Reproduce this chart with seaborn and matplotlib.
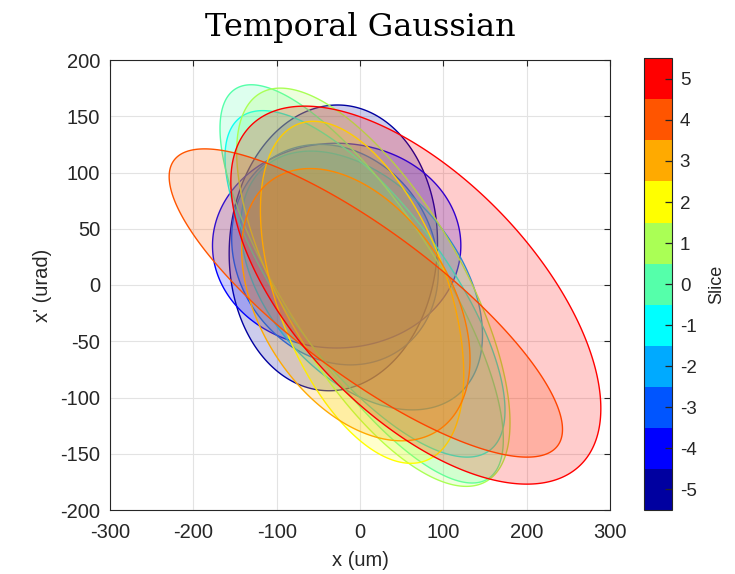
import numpy as np
import pandas as pd
import matplotlib
matplotlib.use("Agg")
import matplotlib.pyplot as plt
import seaborn as sns
from matplotlib.colors import ListedColormap, BoundaryNorm
from matplotlib.colorbar import ColorbarBase

# ---- data ----
slices = [-5, -4, -3, -2, -1, 0, 1, 2, 3, 4, 5]
center_x = [-32, -28, -30, 2, 6, 2, 16, 2.5, -5, 7, 67]          # um
center_xp = [33, 35, 27, 4, 1, 1, -2, -6.5, -17.5, -16, -9]        # urad
half_x = [125, 149, 124, 145, 168, 170, 164, 122, 137, 236, 222]   # um
half_xp = [127, 91, 98, 115, 154, 177, 177, 152, 121, 137, 168]    # urad
corr = [0.04, 0.0, -0.15, -0.42, -0.73, -0.78, -0.68, -0.48, -0.40, -0.82, -0.60]
slice_colors = ["#0000A0", "#0000FF", "#0055FF", "#00AAFF", "#00FFFF", "#55FFAA",
                "#AAFF55", "#FFFF00", "#FFAA00", "#FF5500", "#FF0000"]
x_ticks = [-300, -200, -100, 0, 100, 200, 300]
y_ticks = [-200, -150, -100, -50, 0, 50, 100, 150, 200]

df = pd.DataFrame(dict(slice=slices, cx=center_x, cy=center_xp, hx=half_x,
                       hy=half_xp, rho=corr, color=slice_colors))

sns.set_theme(style="white")
plt.rcParams['font.family'] = ['Liberation Sans', 'DejaVu Sans']
plt.rcParams['axes.unicode_minus'] = False

fig = plt.figure(figsize=(7.35, 5.74), dpi=100)
ax = fig.add_axes([110/735, 1-510/574, 500/735, 450/574])

t = np.linspace(0, 2*np.pi, 400)
for _, r in df.iterrows():
    phi = np.arccos(r.rho)
    ex = r.cx + r.hx*np.cos(t)
    ey = r.cy + r.hy*np.cos(t - phi)
    rgb = matplotlib.colors.to_rgb(r.color)
    ax.fill(ex, ey, facecolor=(*rgb, 0.2), edgecolor=rgb, linewidth=1.0, zorder=3)

ax.set_xlim(-300, 300)
ax.set_ylim(-200, 200)
ax.set_xticks(x_ticks)
ax.set_yticks(y_ticks)
ax.grid(True, color="#e3e3e3", linewidth=0.8, zorder=0)
ax.set_axisbelow(True)
ax.tick_params(direction="in", top=True, right=True, length=4, width=0.8,
               colors="#262626", labelsize=14.5, labelcolor="#262626")
ax.tick_params(axis="x", pad=9)
ax.tick_params(axis="y", pad=7)
for s in ax.spines.values():
    s.set_color("#262626")
    s.set_linewidth(0.8)
ax.set_xlabel("x (um)", fontsize=14.5, color="#262626", labelpad=7)
ax.set_ylabel("x' (urad)", fontsize=14.5, color="#262626", labelpad=6)
ax.set_title("Temporal Gaussian", fontsize=23, family="DejaVu Serif", pad=17, color="black")

cax = fig.add_axes([644/735, 1-510/574, 27.5/735, (510-58.3)/574])
cmap = ListedColormap(slice_colors)
bounds = np.arange(-5.5, 6.5, 1.0)
norm = BoundaryNorm(bounds, cmap.N)
cb = ColorbarBase(cax, cmap=cmap, norm=norm, ticks=slices, orientation="vertical")
cb.outline.set_edgecolor("#262626")
cb.outline.set_linewidth(0.8)
cax.minorticks_off()
cax.set_axisbelow(False)
cax.yaxis.set_zorder(5)
cax.tick_params(which="major", direction="in", length=5, width=0.9, color="#262626",
                labelsize=13.5, labelcolor="#262626", pad=6)
cb.set_label("Slice", fontsize=13, color="#262626", labelpad=8)

fig.savefig("out.png", dpi=100)
